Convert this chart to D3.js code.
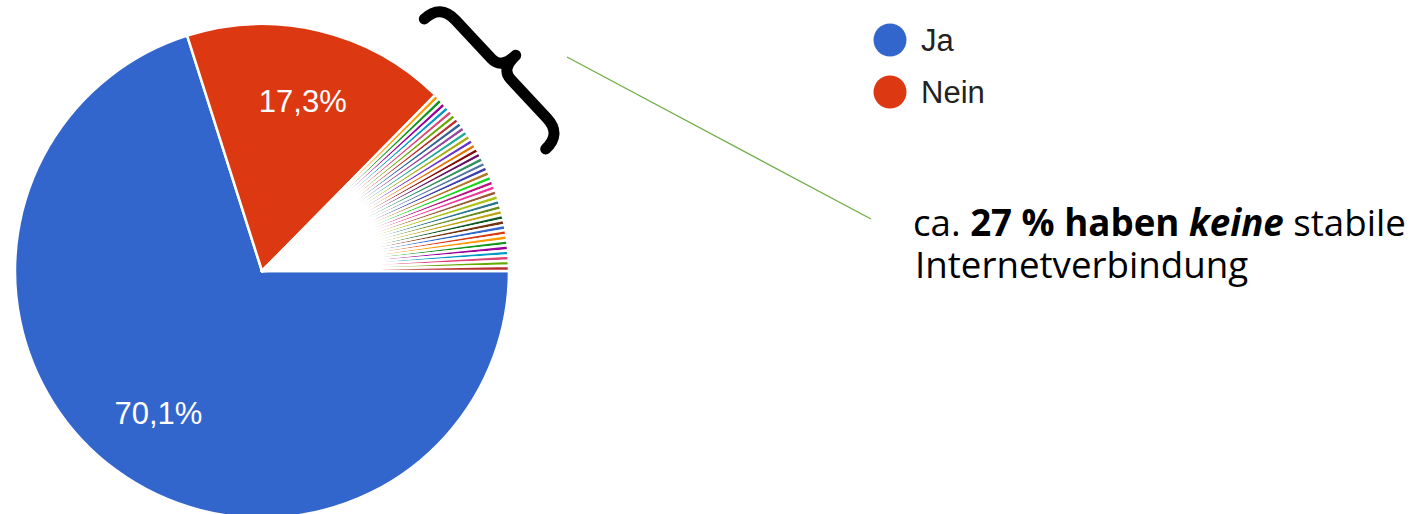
<!DOCTYPE html>
<html>
<head>
<meta charset="utf-8">
<script src="https://cdn.jsdelivr.net/npm/d3@7"></script>
<style>
  body { margin: 0; background: #fff; }
  svg { display: block; }
</style>
</head>
<body>
<script>
// answers: counts (211 of 301 = 70,1 %, 52 of 301 = 17,3 %)
var categories = ['Ja', 'Nein']
var counts = [211, 52]
// the many single free-text answers, one response each
var otherCounts = [1, 1, 1, 1, 1, 1, 1, 1, 1, 1, 1, 1, 1, 1, 1, 1, 1, 1, 1,
                   1, 1, 1, 1, 1, 1, 1, 1, 1, 1, 1, 1, 1, 1, 1, 1, 1, 1, 1]
var palette = ['#3366cc', '#dc3912', '#ff9900', '#109618', '#990099', '#0099c6',
  '#dd4477', '#66aa00', '#b82e2e', '#316395', '#994499', '#22aa99', '#aaaa11',
  '#6633cc', '#e67300', '#8b0707', '#651067', '#329262', '#5574a6', '#3b3eac',
  '#b77322', '#16d620', '#b91383', '#f4359e', '#9c5935', '#a9c413', '#2a778d',
  '#668d1c', '#bea413', '#0c5922', '#743411']

var data = counts.map(function(v, i){ return {name: categories[i], value: v} })
  .concat(otherCounts.map(function(v, i){ return {name: 'other' + i, value: v} }))
var total = d3.sum(data, d => d.value)

var width = 1414, height = 514
var svg = d3.select('body').append('svg').attr('width', width).attr('height', height)

var cx = 262, cy = 271, r = 247

var pie = d3.pie().value(d => d.value).sort(null)
  .startAngle(Math.PI / 2).endAngle(Math.PI / 2 + 2 * Math.PI)
var arc = d3.arc().innerRadius(0).outerRadius(r)
var labelArc = d3.arc().innerRadius(r * 0.71).outerRadius(r * 0.71)
var color = d3.scaleOrdinal().domain(d3.range(palette.length)).range(palette)

var g = svg.append('g').attr('transform', 'translate(' + cx + ',' + cy + ')')
var arcs = pie(data)

g.selectAll('path').data(arcs).enter().append('path')
  .attr('d', arc)
  .attr('fill', (d, i) => color(i % palette.length))
  .attr('stroke', '#fff')
  .attr('stroke-width', 2.5)
  .attr('stroke-linejoin', 'round')

var fmt = d3.formatLocale({decimal: ',', thousands: '.', grouping: [3], currency: ['', '€']}).format('.1f')
g.selectAll('text.pct').data(arcs.slice(0, 2)).enter().append('text')
  .attr('class', 'pct')
  .attr('transform', d => 'translate(' + labelArc.centroid(d) + ')')
  .attr('text-anchor', 'middle')
  .attr('dy', '0.36em')
  .style('font-family', '"Liberation Sans", Arial, sans-serif')
  .style('font-size', '31px')
  .attr('fill', '#fff')
  .text(d => fmt(d.value / total * 100) + '%')

// legend
var legend = svg.append('g').attr('transform', 'translate(890,40)')
var item = legend.selectAll('g').data(categories).enter().append('g')
  .attr('transform', (d, i) => 'translate(0,' + i * 52 + ')')
item.append('circle').attr('r', 16.5).attr('fill', (d, i) => color(i))
item.append('text').attr('x', 31).attr('y', 11)
  .style('font-family', '"Liberation Sans", Arial, sans-serif')
  .style('font-size', '31px')
  .attr('fill', '#222')
  .text(d => d)

// curly brace over the small slices
svg.append('path')
  .attr('transform', 'translate(485,84) rotate(-43)')
  .attr('d', 'M0,-89 Q22,-89 22,-67 L22,-14 Q22,0 42,0 Q22,0 22,14 L22,67 Q22,89 0,89')
  .attr('fill', 'none').attr('stroke', '#000')
  .attr('stroke-width', 11).attr('stroke-linecap', 'round').attr('stroke-linejoin', 'round')

// pointer line
svg.append('line')
  .attr('x1', 567).attr('y1', 57).attr('x2', 871).attr('y2', 219)
  .attr('stroke', '#70ad47').attr('stroke-width', 1.3)

// annotation
var note = svg.append('text')
  .style('font-family', '"Open Sans", sans-serif')
  .style('font-size', '36.7px')
  .attr('fill', '#000')
var l1 = note.append('tspan').attr('x', 913).attr('y', 236)
l1.append('tspan').text('ca. ')
l1.append('tspan').style('font-weight', 'bold').text('27 % haben ')
l1.append('tspan').style('font-weight', 'bold').style('font-style', 'italic').text('keine')
l1.append('tspan').text(' stabile')
note.append('tspan').attr('x', 915).attr('y', 278).text('Internetverbindung')
</script>
</body>
</html>
